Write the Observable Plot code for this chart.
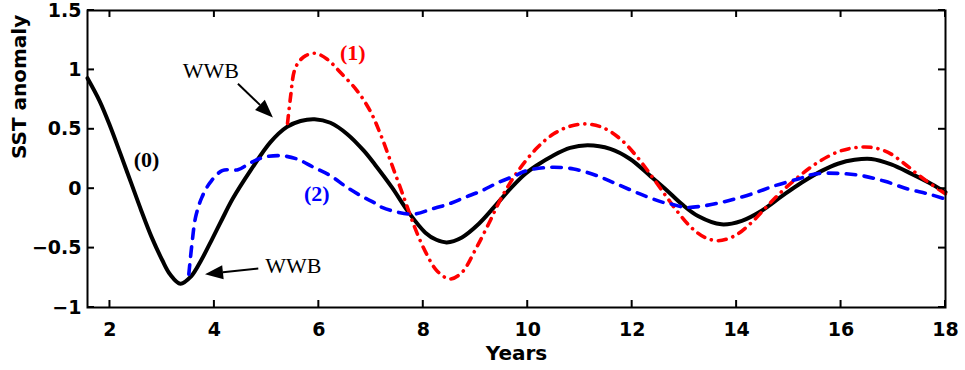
<!DOCTYPE html>
<html>
<head>
<meta charset="utf-8">
<script src="https://cdn.jsdelivr.net/npm/d3@7"></script>
<script src="https://cdn.jsdelivr.net/npm/@observablehq/plot@0.6"></script>
<style>
  html, body { margin: 0; padding: 0; background: #fff; }
</style>
</head>
<body>
<div id="chart"></div>
<script>
// SST anomaly response: control run (0), WWB at the warm phase (1), WWB at the cold phase (2)
const run0Years = [1.57, 1.80, 2.00, 2.20, 2.40, 2.60, 2.80, 3.00, 3.15, 3.35, 3.55, 3.75, 3.95, 4.15, 4.35, 4.69, 5.07, 5.39, 5.65, 5.92, 6.22, 6.54, 6.86, 7.08, 7.40, 7.72, 8.04, 8.25, 8.45, 8.74, 9.06, 9.38, 9.69, 9.95, 10.17, 10.49, 10.81, 11.15, 11.58, 11.96, 12.34, 12.63, 12.95, 13.26, 13.71, 14.10, 14.48, 14.86, 15.24, 15.63, 15.94, 16.26, 16.58, 16.96, 17.35, 17.73, 18.0];
const run0Sst = [0.93, 0.74, 0.53, 0.295, 0.055, -0.185, -0.41, -0.60, -0.72, -0.80, -0.74, -0.60, -0.43, -0.255, -0.085, 0.152, 0.39, 0.52, 0.57, 0.585, 0.555, 0.461, 0.32, 0.20, 0.011, -0.20, -0.37, -0.43, -0.452, -0.41, -0.297, -0.143, 0.011, 0.124, 0.195, 0.28, 0.343, 0.365, 0.335, 0.25, 0.11, 0.0, -0.13, -0.23, -0.30, -0.27, -0.185, -0.065, 0.05, 0.15, 0.21, 0.243, 0.25, 0.205, 0.125, 0.04, -0.03];

const run1Years = [5.40, 5.46, 5.53, 5.62, 5.75, 5.93, 6.16, 6.41, 6.73, 6.98, 7.17, 7.40, 7.65, 7.84, 8.04, 8.26, 8.51, 8.74, 8.99, 9.25, 9.50, 9.80, 10.17, 10.49, 10.81, 11.13, 11.45, 11.77, 12.09, 12.40, 12.66, 12.88, 13.14, 13.39, 13.65, 13.97, 14.29, 14.60, 14.92, 15.24, 15.55, 15.94, 16.26, 16.58, 16.90, 17.22, 17.54, 18.0];
const run1Sst = [0.55, 0.78, 0.99, 1.07, 1.12, 1.14, 1.09, 0.98, 0.826, 0.657, 0.47, 0.20, -0.10, -0.33, -0.53, -0.69, -0.76, -0.705, -0.52, -0.297, -0.073, 0.14, 0.34, 0.46, 0.525, 0.545, 0.512, 0.42, 0.27, 0.09, -0.07, -0.20, -0.33, -0.41, -0.438, -0.395, -0.283, -0.14, 0.0, 0.12, 0.22, 0.31, 0.345, 0.348, 0.306, 0.208, 0.096, -0.044];

const run2Years = [3.51, 3.57, 3.64, 3.76, 3.92, 4.15, 4.45, 4.70, 4.94, 5.26, 5.58, 5.90, 6.22, 6.54, 6.86, 7.05, 7.21, 7.53, 7.84, 8.16, 8.48, 8.80, 9.12, 9.44, 9.76, 9.98, 10.43, 10.88, 11.32, 11.70, 12.15, 12.59, 12.76, 13.01, 13.39, 13.84, 14.29, 14.73, 15.18, 15.50, 15.94, 16.39, 16.84, 17.28, 17.67, 18.0];
const run2Sst = [-0.72, -0.466, -0.24, -0.073, 0.053, 0.152, 0.16, 0.22, 0.264, 0.278, 0.25, 0.18, 0.11, 0.011, -0.073, -0.115, -0.157, -0.2, -0.213, -0.171, -0.13, -0.073, -0.017, 0.053, 0.11, 0.152, 0.18, 0.166, 0.11, 0.04, -0.044, -0.115, -0.13, -0.157, -0.143, -0.101, -0.044, 0.025, 0.082, 0.124, 0.129, 0.11, 0.062, -0.003, -0.044, -0.087];

// Axis ticks and their labels
const xTicks = [2, 4, 6, 8, 10, 12, 14, 16, 18];
const xTickLabels = ["2", "4", "6", "8", "10", "12", "14", "16", "18"];
const yTicks = [-1, -0.5, 0, 0.5, 1, 1.5];
const yTickLabels = ["\u22121", "\u22120.5", "0", "0.5", "1", "1.5"];

// Curve labels
const curveLabels = ["(0)", "(1)", "(2)"];
const curveLabelX = [2.70, 6.65, 5.96];
const curveLabelY = [0.239, 1.14, -0.042];
const curveLabelColor = ["black", "red", "blue"];

// Westerly wind burst annotations: text position and arrow (tail -> head)
const wwbText = ["WWB", "WWB"];
const wwbX = [3.93, 5.51];
const wwbY = [0.99, -0.652];
const arrowX1 = [4.46, 4.85];
const arrowY1 = [0.88, -0.676];
const arrowX2 = [5.13, 3.83];
const arrowY2 = [0.596, -0.724];

const pairs = (xs, ys) => xs.map((x, i) => [x, ys[i]]);

// Inward-pointing ticks on all four sides of the box
function boxTicks(index, {x, y}, values, {width, height, marginLeft, marginRight, marginTop, marginBottom}) {
  const g = d3.create("svg:g").attr("stroke", "black").attr("stroke-width", 2);
  const left = marginLeft, right = width - marginRight;
  const top = marginTop, bottom = height - marginBottom;
  const len = 7;
  for (const t of xTicks) {
    const px = x(t);
    g.append("line").attr("x1", px).attr("x2", px).attr("y1", bottom).attr("y2", bottom - len);
    g.append("line").attr("x1", px).attr("x2", px).attr("y1", top).attr("y2", top + len);
  }
  for (const t of yTicks) {
    const py = y(t);
    g.append("line").attr("y1", py).attr("y2", py).attr("x1", left).attr("x2", left + len);
    g.append("line").attr("y1", py).attr("y2", py).attr("x1", right).attr("x2", right - len);
  }
  return g.node();
}

// Arrows with filled heads, placed through the plot's own scales
function wwbArrows(index, {x, y}) {
  const g = d3.create("svg:g");
  arrowX1.forEach((_, i) => {
    const x1 = x(arrowX1[i]), y1 = y(arrowY1[i]);
    const x2 = x(arrowX2[i]), y2 = y(arrowY2[i]);
    const a = Math.atan2(y2 - y1, x2 - x1);
    const len = 18, half = 7;
    const bx = x2 - len * Math.cos(a), by = y2 - len * Math.sin(a);
    g.append("line")
      .attr("x1", x1).attr("y1", y1).attr("x2", bx).attr("y2", by)
      .attr("stroke", "black").attr("stroke-width", 2);
    g.append("path")
      .attr("d", `M${x2},${y2}L${bx + half * Math.sin(a)},${by - half * Math.cos(a)}L${bx - half * Math.sin(a)},${by + half * Math.cos(a)}Z`)
      .attr("fill", "black");
  });
  return g.node();
}

const tickFont = {fontFamily: "DejaVu Sans", fontWeight: "bold", fontSize: 19};

const chart = Plot.plot({
  width: 965,
  height: 370,
  marginLeft: 87,
  marginRight: 20,
  marginTop: 10,
  marginBottom: 63,
  style: {background: "#fff", color: "black"},
  color: {type: "identity"},
  x: {domain: [1.57, 18], label: null},
  y: {domain: [-1, 1.5], label: null},
  marks: [
    Plot.axisX({anchor: "bottom", ticks: xTicks, tickFormat: (d, i) => xTickLabels[i], tickSize: 0, tickPadding: 15, label: null, ...tickFont}),
    Plot.axisY({anchor: "left", ticks: yTicks, tickFormat: (d, i) => yTickLabels[i], tickSize: 0, tickPadding: 6, label: null, ...tickFont}),
    Plot.line(pairs(run0Years, run0Sst), {stroke: "black", strokeWidth: 4, curve: "catmull-rom"}),
    Plot.line(pairs(run1Years, run1Sst), {stroke: "red", strokeWidth: 3.6, curve: "catmull-rom", strokeDasharray: "8,7,0.1,7", strokeLinecap: "round"}),
    Plot.line(pairs(run2Years, run2Sst), {stroke: "blue", strokeWidth: 3.6, curve: "catmull-rom", strokeDasharray: "9.5,8.5", strokeLinecap: "round"}),
    Plot.frame({stroke: "black", strokeWidth: 2}),
    boxTicks,
    Plot.text(curveLabels, {x: curveLabelX, y: curveLabelY, text: d => d, fill: curveLabelColor, fontFamily: "Liberation Serif", fontWeight: "bold", fontSize: 22}),
    Plot.text(wwbText, {x: wwbX, y: wwbY, text: d => d, fill: "black", fontFamily: "Liberation Serif", fontSize: 22}),
    wwbArrows,
    Plot.text(["SST anomaly"], {frameAnchor: "left", dx: -68, rotate: -90, fontFamily: "DejaVu Sans", fontWeight: "bold", fontSize: 20}),
    Plot.text(["Years"], {frameAnchor: "bottom", dy: 52, fontFamily: "DejaVu Sans", fontWeight: "bold", fontSize: 20})
  ]
});

document.getElementById("chart").appendChild(chart);
</script>
</body>
</html>
